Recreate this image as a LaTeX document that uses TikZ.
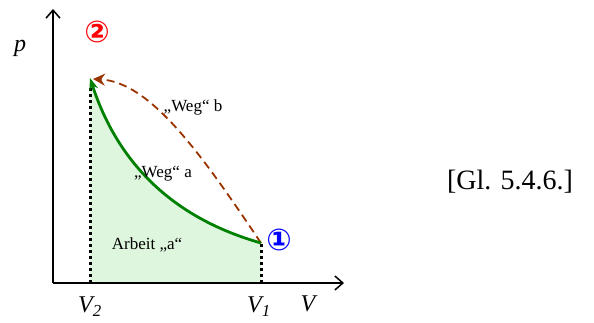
\documentclass[tikz,border=0pt]{standalone}
\usepackage{fontspec}
\setmainfont{Liberation Serif}
\newfontfamily\symfont{DejaVu Sans Bold}
\usetikzlibrary{arrows.meta}
\definecolor{pathgreen}{RGB}{0,128,0}
\definecolor{pathbrown}{RGB}{153,51,0}
\definecolor{areagreen}{RGB}{222,246,222}
\tikzset{
  axis/.style={line width=1.5pt,-{Straight Barb[length=8pt,width=14pt,line width=1.5pt]}},
  dotline/.style={line width=3pt,dash pattern=on 3pt off 3pt},
  waya/.style={line width=2.8pt,pathgreen,-{Stealth[length=12pt,width=9pt]}},
  wayb/.style={line width=1.8pt,pathbrown,dash pattern=on 8pt off 5pt,-{Stealth[length=12pt,width=12pt,inset=4pt]}},
  lbl/.style={inner sep=0pt,font=\fontsize{17}{20}\selectfont},
  big/.style={inner sep=0pt,font=\fontsize{24}{28}\selectfont\itshape},
  circnum/.style={inner sep=0pt,font=\symfont\fontsize{30}{32}\selectfont},
}
\begin{document}
\begin{tikzpicture}[x=1pt,y=-1pt]
\useasboundingbox (0,0) rectangle (594,323);
\coordinate (O) at (53,283);
\coordinate (ytop) at (53,9);
\coordinate (xend) at (344,283);
\coordinate (p1) at (261,243);
\coordinate (p2) at (90,78);
\coordinate (v2b) at (90,283);
\coordinate (v2t) at (90,88);
\coordinate (v1b) at (261,283);
% area
\fill[areagreen] (v2b) -- (p2) .. controls (120,170) and (180,220) .. (p1) -- (v1b) -- cycle;
% axes
\draw[axis] (O) -- (ytop);
\draw[axis] (O) -- (xend);
% dotted verticals
\draw[dotline] (v2b) -- (v2t);
\draw[dotline] (v1b) -- (p1);
% paths
\draw[wayb] (p1) .. controls (200,152) and (150,82) .. (93,79);
\draw[waya] (p1) .. controls (180,220) and (120,170) .. (p2);
% labels
\node[big] (pl) at (20,48) {p};
\node[big] (Vl) at (308,304) {V};
\node[big] (V2l) at (90,307) {V\textsubscript{2}};
\node[big] (V1l) at (259,307) {V\textsubscript{1}};
\node[circnum,text=red] (n2) at (97,32) {②};
\node[circnum,text=blue] (n1) at (279,240) {①};
\node[lbl] (wb) at (193,107) {„Weg“ b};
\node[lbl] (wa) at (163,174) {„Weg“ a};
\node[lbl] (arb) at (147,245) {Arbeit „a“};
\node[inner sep=0pt,font=\fontsize{28}{32}\selectfont] (gl) at (510,182) {[Gl. 5.4.6.]};
\end{tikzpicture}
\end{document}
